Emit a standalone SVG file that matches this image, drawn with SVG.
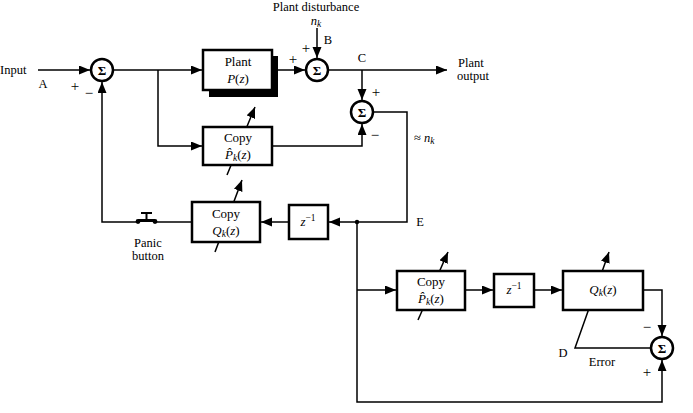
<svg xmlns="http://www.w3.org/2000/svg" width="693" height="413" viewBox="0 0 693 413">
<style>
text{font-family:"Liberation Serif","Times New Roman",serif;fill:#000;font-size:12.5px}
.c{text-anchor:middle}
.bt{font-size:13px}
.i{font-style:italic}
.sub{font-size:9.5px;font-style:italic}
.pm{font-size:15px;text-anchor:middle}
.ln{fill:none;stroke:#000;stroke-width:1.5}
.box{fill:#fff;stroke:#000;stroke-width:2.5}
.sum{fill:#fff;stroke:#000;stroke-width:2.5}
.sig{font-weight:bold;font-size:13px;text-anchor:middle}
</style>
<defs>
<marker id="ah" markerUnits="userSpaceOnUse" markerWidth="12" markerHeight="10" refX="11" refY="4.5" orient="auto">
<path d="M0,0 L11,4.5 L0,9 Z" fill="#000"/>
</marker>
</defs>

<g id="connectors">
<path class="ln" d="M38,70 H90" marker-end="url(#ah)"/>
<path class="ln" d="M113,70 H202" marker-end="url(#ah)"/>
<path class="ln" d="M158,70 V146 H202" marker-end="url(#ah)"/>
<path class="ln" d="M278,70 H305" marker-end="url(#ah)"/>
<path class="ln" d="M317,28 V58" marker-end="url(#ah)"/>
<path class="ln" d="M328,70 H447" marker-end="url(#ah)"/>
<path class="ln" d="M362,70 V100" marker-end="url(#ah)"/>
<path class="ln" d="M272,146 H362 V124" marker-end="url(#ah)"/>
<path class="ln" d="M373,112 H407 V222 H329" marker-end="url(#ah)"/>
<path class="ln" d="M289,222 H261" marker-end="url(#ah)"/>
<path class="ln" d="M192,222 H156"/>
<path class="ln" d="M137,222 H102 V82" marker-end="url(#ah)"/>
<path class="ln" d="M357,222 V402 H662 V360" marker-end="url(#ah)"/>
<path class="ln" d="M357,290 H396" marker-end="url(#ah)"/>
<path class="ln" d="M465,290 H493" marker-end="url(#ah)"/>
<path class="ln" d="M534,290 H562" marker-end="url(#ah)"/>
<path class="ln" d="M643,290 H662 V336" marker-end="url(#ah)"/>
<path class="ln" d="M651,348 H575 L609,252" marker-end="url(#ah)"/>
<path class="ln" d="M227,175 L255,107" marker-end="url(#ah)"/>
<path class="ln" d="M215,252 L242,180" marker-end="url(#ah)"/>
<path class="ln" d="M418,320 L448,252" marker-end="url(#ah)"/>
<circle cx="357" cy="222" r="2.2" fill="#000"/>
</g>

<g id="panic">
<path d="M138,220.5 H155" stroke="#000" stroke-width="3"/>
<circle cx="138" cy="221.5" r="2.4" fill="#000"/>
<circle cx="155" cy="221.5" r="2.4" fill="#000"/>
<path d="M146.5,219 V213 M141,213 H152" stroke="#000" stroke-width="2"/>
<text class="c" x="148" y="247">Panic</text>
<text class="c" x="148" y="260">button</text>
</g>

<g id="sum1"><circle class="sum" cx="102" cy="70" r="11"/><text class="sig" x="102" y="74.5">Σ</text></g>
<g id="sum2"><circle class="sum" cx="317" cy="70" r="11"/><text class="sig" x="317" y="74.5">Σ</text></g>
<g id="sum3"><circle class="sum" cx="362" cy="112" r="11"/><text class="sig" x="362" y="116.5">Σ</text></g>
<g id="sum4"><circle class="sum" cx="662" cy="348" r="11"/><text class="sig" x="662" y="352.5">Σ</text></g>

<g id="plant">
<path d="M272,56 H278 V97 H209 V90 H272 Z" fill="#000"/>
<rect class="box" x="203" y="50" width="69" height="40"/>
<text class="c bt" x="238" y="66">Plant</text>
<text class="c bt" x="238" y="83"><tspan class="i">P</tspan>(<tspan class="i">z</tspan>)</text>
</g>

<g id="copyP1">
<rect class="box" x="203" y="127" width="69" height="38"/>
<text class="c bt" x="238" y="142">Copy</text>
<text class="c bt" x="238" y="159"><tspan class="i">P̂</tspan><tspan class="sub" dy="2">k</tspan><tspan dy="-2">(</tspan><tspan class="i">z</tspan>)</text>
</g>

<g id="copyQ">
<rect class="box" x="192" y="202" width="68" height="40"/>
<text class="c bt" x="226" y="218">Copy</text>
<text class="c bt" x="226" y="235"><tspan class="i">Q</tspan><tspan class="sub" dy="2">k</tspan><tspan dy="-2">(</tspan><tspan class="i">z</tspan>)</text>
</g>

<g id="delay1">
<rect class="box" x="289" y="205" width="39" height="34"/>
<text class="c bt" x="308" y="226"><tspan class="i">z</tspan><tspan font-size="9.5" dy="-5">−1</tspan></text>
</g>

<g id="copyP2">
<rect class="box" x="397" y="271" width="68" height="39"/>
<text class="c bt" x="431" y="286">Copy</text>
<text class="c bt" x="431" y="303"><tspan class="i">P̂</tspan><tspan class="sub" dy="2">k</tspan><tspan dy="-2">(</tspan><tspan class="i">z</tspan>)</text>
</g>

<g id="delay2">
<rect class="box" x="494" y="274" width="40" height="33"/>
<text class="c bt" x="514" y="294"><tspan class="i">z</tspan><tspan font-size="9.5" dy="-5">−1</tspan></text>
</g>

<g id="Q">
<rect class="box" x="563" y="271" width="80" height="39"/>
<text class="c bt" x="603" y="294"><tspan class="i">Q</tspan><tspan class="sub" dy="2">k</tspan><tspan dy="-2">(</tspan><tspan class="i">z</tspan>)</text>
</g>

<g id="labels">
<text x="0" y="74">Input</text>
<text class="c" x="43" y="88">A</text>
<text class="pm" x="75" y="91">+</text>
<text class="pm" x="89" y="98">−</text>
<text class="c" x="316" y="11">Plant disturbance</text>
<text class="c" x="316" y="25"><tspan class="i">n</tspan><tspan class="sub" dy="2">k</tspan></text>
<text class="c" x="328" y="44">B</text>
<text class="pm" x="306" y="53">+</text>
<text class="pm" x="293" y="64">+</text>
<text class="c" x="362" y="62">C</text>
<text x="458" y="67">Plant</text>
<text x="457" y="80">output</text>
<text class="pm" x="376" y="97">+</text>
<text class="pm" x="375" y="140">−</text>
<text x="414" y="142">≈ <tspan class="i">n</tspan><tspan class="sub" dy="2">k</tspan></text>
<text class="c" x="420" y="226">E</text>
<text class="c" x="563" y="357">D</text>
<text class="c" x="602" y="366">Error</text>
<text class="pm" x="647" y="332">−</text>
<text class="pm" x="647" y="377">+</text>
</g>
</svg>
